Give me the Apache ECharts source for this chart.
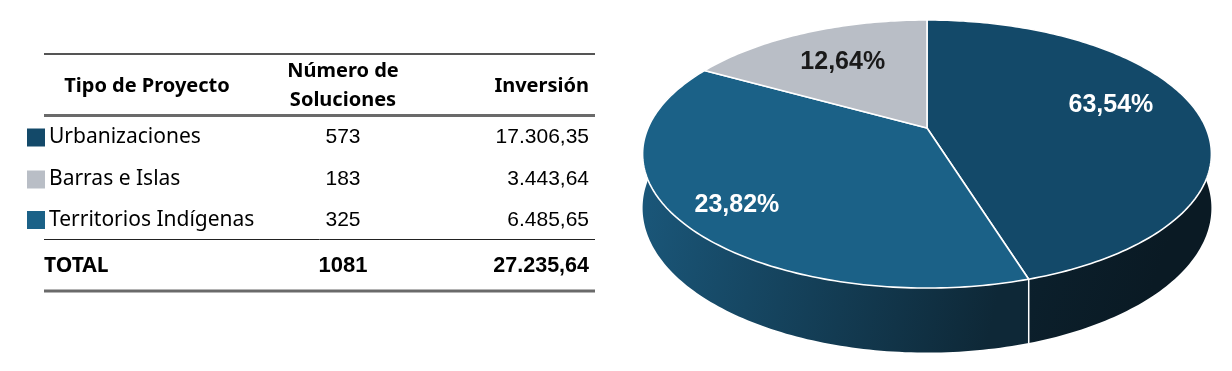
<!DOCTYPE html>
<html><head><meta charset="utf-8">
<script src="https://cdn.jsdelivr.net/npm/echarts@6/dist/echarts.min.js"></script>
<style>html,body{margin:0;padding:0;background:#fff}#c{width:1232px;height:371px}</style>
</head><body><div id="c"></div>
<script>
// ---------- data ----------
const categories = ['Urbanizaciones', 'Barras e Islas', 'Territorios Indígenas'];
const soluciones = [573, 183, 325];
const inversion = [17306.35, 3443.64, 6485.65];
const headers = ['Tipo de Proyecto', 'Número de\nSoluciones', 'Inversión'];
const totalLabel = 'TOTAL';
const pctLabels = ['63,54%', '12,64%', '23,82%'];
// share of the circle each slice occupies as drawn in the picture
const sliceShare = [45.2, 16.9, 37.9];
const drawOrder = [0, 2, 1]; // clockwise from 12 o'clock

// ---------- styles / layout ----------
const topColors = ['#134969', '#b9bec6', '#1b6187'];
const sideColors = [['#0d2838', '#0a1a24'], ['#9ba1a9', '#80868e'], ['#1b5a7e', '#0e2837']];
const labelColors = ['#ffffff', '#1a1a1a', '#ffffff'];
const labelRadius = [0.68, 0.68, 0.8];
const labelOffset = [[0, -10], [2, 2], [2, 5]];
const P = {cx: 927, cy: 128, a: 279, b: 129, k: 0.194, H: 52};

function fmt(n) {
  const parts = n.toFixed(2).split('.');
  return parts[0].replace(/\B(?=(\d{3})+(?!\d))/g, '.') + ',' + parts[1];
}
function proj(theta, r, depth) {
  const u = r * Math.sin(theta), v = -r * Math.cos(theta);
  const w = 1 - P.k * v;
  return [P.cx + P.a * u / w, P.cy + P.b * v / w + (depth || 0) / w];
}
const totalShare = sliceShare.reduce((s, x) => s + x, 0);
const angles = {};
(function () {
  let acc = 0;
  drawOrder.forEach(i => {
    const s = acc / totalShare * 2 * Math.PI;
    acc += sliceShare[i];
    angles[i] = [s, acc / totalShare * 2 * Math.PI];
  });
})();
function arc(t1, t2, depth) {
  const pts = [];
  const n = Math.max(2, Math.ceil((t2 - t1) / (Math.PI / 180)));
  for (let j = 0; j <= n; j++) pts.push(proj(t1 + (t2 - t1) * j / n, 1, depth));
  return pts;
}

function renderSide(params, api) {
  const i = api.value(0);
  const [t1, t2] = angles[i];
  const top = arc(t1, t2, 0);
  const bot = arc(t1, t2, P.H).reverse();
  const children = [{
    type: 'polygon', shape: {points: top.concat(bot)},
    style: {fill: {type: 'linear', x: 0, y: 0, x2: 1, y2: 0.3,
      colorStops: [{offset: 0, color: sideColors[i][0]}, {offset: 1, color: sideColors[i][1]}]}}
  }];
  if (-Math.cos(t1) > 0) {
    const p1 = proj(t1, 1, 0), p2 = proj(t1, 1, P.H);
    children.push({type: 'line', shape: {x1: p1[0], y1: p1[1], x2: p2[0], y2: p2[1]},
      style: {stroke: '#ffffff', lineWidth: 1.5}});
  }
  return {type: 'group', children};
}
function renderTop(params, api) {
  const i = api.value(0);
  const [t1, t2] = angles[i];
  const pts = [proj(0, 0, 0)].concat(arc(t1, t2, 0));
  const mid = (t1 + t2) / 2;
  const lp = proj(mid, labelRadius[i], 0);
  return {type: 'group', children: [
    {type: 'polygon', shape: {points: pts},
      style: {fill: topColors[i], stroke: '#ffffff', lineWidth: 1.6, lineJoin: 'round'}},
    {type: 'text', x: lp[0] + labelOffset[i][0], y: lp[1] + labelOffset[i][1], z2: 10,
      style: {text: pctLabels[i], fill: labelColors[i], font: 'bold 25px "Liberation Sans", Arial, sans-serif',
        align: 'center', verticalAlign: 'middle'}}
  ]};
}

// ---------- table ----------
const T = {x1: 44, x2: 595, colLabel: 49, colNum: 343, colInv: 589,
  yTop: 54, yHead: 86, yHeadLine: 115.5, rows: [137.5, 179.5, 220], yRowLine: 239.5, yTotal: 266, yBottom: 291};
const FONT_TXT = '"Noto Sans", "Open Sans", sans-serif';
const FONT_NUM = '"Liberation Sans", Arial, sans-serif';
const g = [];
function hline(y, w, color) {
  g.push({type: 'line', shape: {x1: T.x1, y1: y, x2: T.x2, y2: y}, style: {stroke: color, lineWidth: w}});
}
hline(T.yTop, 2, '#555555');
hline(T.yHeadLine, 3, '#6a6a6a');
hline(T.yRowLine, 1, '#222222');
hline(T.yBottom, 3, '#6a6a6a');
const HFONT = 'bold 20px ' + FONT_TXT;
g.push({type: 'text', x: 147, y: T.yHead, style: {text: headers[0], font: HFONT, fill: '#000', align: 'center', verticalAlign: 'middle'}});
g.push({type: 'text', x: T.colNum, y: T.yHead, style: {text: headers[1], font: HFONT, fill: '#000', align: 'center', verticalAlign: 'middle', lineHeight: 29}});
g.push({type: 'text', x: T.colInv, y: T.yHead, style: {text: headers[2], font: HFONT, fill: '#000', align: 'right', verticalAlign: 'middle'}});
categories.forEach((c, i) => {
  const y = T.rows[i];
  g.push({type: 'rect', shape: {x: 27, y: y - 9, width: 18, height: 18}, style: {fill: topColors[i]}});
  g.push({type: 'text', x: T.colLabel, y: y, style: {text: c, font: '21px ' + FONT_TXT, fill: '#000', align: 'left', verticalAlign: 'middle'}});
  g.push({type: 'text', x: T.colNum, y: y, style: {text: String(soluciones[i]), font: '21px ' + FONT_NUM, fill: '#000', align: 'center', verticalAlign: 'middle'}});
  g.push({type: 'text', x: T.colInv, y: y, style: {text: fmt(inversion[i]), font: '21px ' + FONT_NUM, fill: '#000', align: 'right', verticalAlign: 'middle'}});
});
const totSol = soluciones.reduce((s, x) => s + x, 0);
const totInv = inversion.reduce((s, x) => s + x, 0);
g.push({type: 'text', x: T.x1, y: T.yTotal, style: {text: totalLabel, font: 'bold 21px ' + FONT_TXT, fill: '#000', align: 'left', verticalAlign: 'middle'}});
g.push({type: 'text', x: T.colNum, y: T.yTotal, style: {text: String(totSol), font: 'bold 22px ' + FONT_NUM, fill: '#000', align: 'center', verticalAlign: 'middle'}});
g.push({type: 'text', x: T.colInv, y: T.yTotal, style: {text: fmt(totInv), font: 'bold 21.5px ' + FONT_NUM, fill: '#000', align: 'right', verticalAlign: 'middle'}});

const chart = echarts.init(document.getElementById('c'), null, {renderer: 'canvas'});
chart.setOption({
  animation: false,
  backgroundColor: '#ffffff',
  graphic: {elements: g},
  series: [
    {type: 'custom', coordinateSystem: 'none', z: 1, renderItem: renderSide, data: drawOrder.map(i => [i])},
    {type: 'custom', coordinateSystem: 'none', z: 2, renderItem: renderTop, data: drawOrder.map(i => [i])}
  ]
});
</script></body></html>
